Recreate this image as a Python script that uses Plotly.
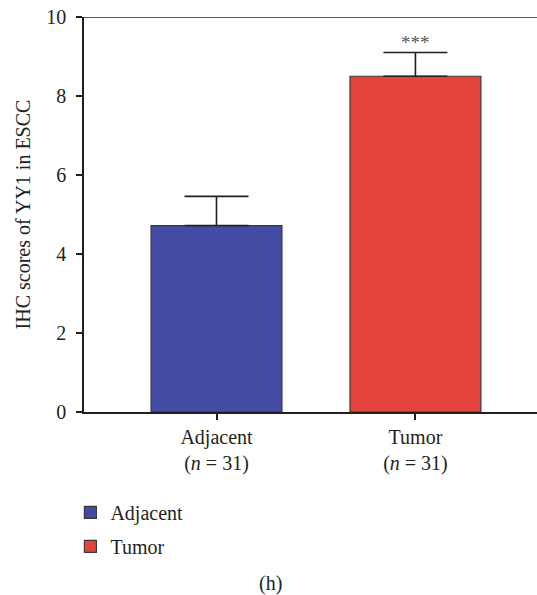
import plotly.graph_objects as go

# Group data
groups = ["Adjacent", "Tumor"]
n_samples = [31, 31]
means = [4.72, 8.50]
sem = [0.74, 0.60]
colors = ["#434BA5", "#E3443C"]
significance = ["", "***"]

y_ticks = [0, 2, 4, 6, 8, 10]

FONT = "Liberation Serif, Times New Roman, serif"
INK = "#231f20"

fig = go.Figure()
for i, g in enumerate(groups):
    fig.add_trace(go.Bar(
        x=[g], y=[means[i]], name=g,
        legendgroup=g,
        width=0.658,
        marker=dict(color=colors[i], line=dict(color="#3a3a3a", width=1.2)),
        error_y=dict(type="data", symmetric=False, array=[sem[i]], arrayminus=[0],
                     color=INK, thickness=1.6, width=32),
    ))
    if significance[i]:
        fig.add_annotation(x=g, y=means[i] + sem[i], text=significance[i],
                           showarrow=False, yanchor="bottom", yshift=-2,
                           font=dict(family=FONT, size=19, color="#555"))

tick_text = [f"{g}<br>(<i>n</i> = {n})" for g, n in zip(groups, n_samples)]

# Top boundary line at the axis maximum
fig.add_shape(type="line", xref="paper", yref="y", x0=0, x1=1, y0=10, y1=10,
              line=dict(color=INK, width=1.6))

fig.add_annotation(xref="paper", yref="paper", x=(270 - 84) / 453, y=-0.433,
                   yanchor="middle", text="(h)", showarrow=False,
                   font=dict(family=FONT, size=20, color=INK))

fig.update_layout(
    width=537, height=595,
    margin=dict(l=84, r=0, t=17, b=183),
    paper_bgcolor="white", plot_bgcolor="white",
    font=dict(family=FONT, size=20, color=INK),
    barmode="overlay",
    showlegend=True,
    legend=dict(x=-0.03, y=-0.205, xanchor="left", yanchor="top",
                traceorder="grouped", tracegroupgap=5,
                font=dict(family=FONT, size=20, color=INK),
                bgcolor="rgba(0,0,0,0)"),
    xaxis=dict(
        range=[-0.666, 1.611],
        tickmode="array", tickvals=groups, ticktext=tick_text,
        showline=True, linecolor=INK, linewidth=1.6,
        ticks="outside", ticklen=6, tickwidth=1.6, tickcolor=INK,
        showgrid=False, zeroline=False,
        tickfont=dict(family=FONT, size=20, color=INK),
    ),
    yaxis=dict(
        range=[0, 10], tickvals=y_ticks,
        showline=True, linecolor=INK, linewidth=1.6,
        ticks="outside", ticklen=6, tickwidth=1.6, tickcolor=INK,
        showgrid=False, zeroline=False,
        ticklabelstandoff=6,
        tickfont=dict(family=FONT, size=20, color=INK),
        title=dict(text="IHC scores of YY1 in ESCC", standoff=10,
                   font=dict(family=FONT, size=20, color=INK)),
    ),
)

fig.write_html("out.html")
